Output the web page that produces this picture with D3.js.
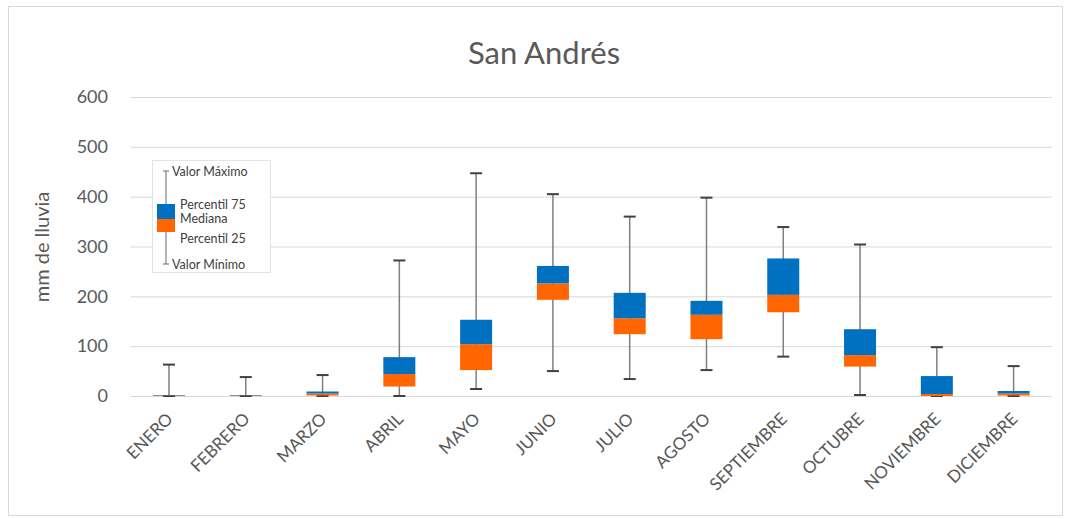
<!DOCTYPE html>
<html><head><meta charset="utf-8">
<script src="https://cdn.jsdelivr.net/npm/d3@7"></script>
<style>html,body{margin:0;padding:0;background:#fff;}svg{display:block;}</style>
</head><body>
<svg id="chart" width="1065" height="519"></svg>
<script>
const months = ["ENERO","FEBRERO","MARZO","ABRIL","MAYO","JUNIO","JULIO","AGOSTO","SEPTIEMBRE","OCTUBRE","NOVIEMBRE","DICIEMBRE"];
const minVals = [0, 0, 0, 0, 14, 50, 34, 52, 79, 2, 0, 0];
const q1Vals = [0, 0, 1, 19, 52, 193, 124, 114, 168, 59, 0, 1];
const medianVals = [1, 1, 5, 44, 104, 226, 156, 163, 203, 82, 4, 5];
const q3Vals = [2, 2, 9, 78, 153, 261, 207, 191, 276, 134, 40, 10];
const maxVals = [63, 38, 42, 272, 447, 405, 360, 398, 339, 304, 98, 60];
const yTicks = [0, 100, 200, 300, 400, 500, 600];

(function () {
const data = months.map((m, i) => ({m, min: minVals[i], q1: q1Vals[i], med: medianVals[i], q3: q3Vals[i], max: maxVals[i]}));

const svg = d3.select("#chart");
const font = "Lato, 'Open Sans', sans-serif";
const txt = "#595959";

svg.append("rect").attr("x", 8.5).attr("y", 6.5).attr("width", 1054).attr("height", 509)
  .attr("fill", "#fff").attr("stroke", "#d9d9d9");

const pLeft = 130.6, pRight = 1052, pTop = 97, pBottom = 396;
const x = d3.scaleBand().domain(months).range([pLeft, pRight]).paddingInner(0).paddingOuter(0);
const y = d3.scaleLinear().domain([0, 600]).range([pBottom, pTop]);

// gridlines
svg.append("g").selectAll("line").data(yTicks).join("line")
  .attr("x1", pLeft).attr("x2", pRight)
  .attr("y1", d => y(d) + 0.5).attr("y2", d => y(d) + 0.5)
  .attr("stroke", "#d9d9d9").attr("stroke-width", 1);

// y axis labels
const yAxis = d3.axisLeft(y).tickValues(yTicks).tickSize(0).tickPadding(0);
const ya = svg.append("g").attr("transform", `translate(108,0)`).call(yAxis);
ya.select(".domain").remove();
ya.selectAll("text").attr("font-family", font).attr("font-size", 18).attr("fill", txt);

// x axis labels
const xAxis = d3.axisBottom(x).tickSize(0).tickPadding(0);
const xa = svg.append("g").attr("transform", `translate(0,${pBottom})`).call(xAxis);
xa.select(".domain").remove();
xa.selectAll("text")
  .attr("font-family", font).attr("font-size", 17).attr("fill", txt)
  .attr("text-anchor", "end")
  .attr("dy", null).attr("y", null)
  .attr("transform", "translate(5,24) rotate(-45)");

// title
svg.append("text").attr("x", 544).attr("y", 64).attr("text-anchor", "middle")
  .attr("font-family", font).attr("font-size", 31).attr("fill", txt).text("San Andrés");

// y title
svg.append("text").attr("transform", "translate(49,247) rotate(-90)").attr("text-anchor", "middle")
  .attr("font-family", font).attr("font-size", 20).attr("fill", txt).text("mm de lluvia");

const bw = 32, capW = 12;
const g = svg.append("g").selectAll("g").data(data).join("g")
  .attr("transform", d => `translate(${x(d.m) + x.bandwidth() / 2},0)`);

g.append("line").attr("x1", 0).attr("x2", 0)
  .attr("y1", d => y(d.max)).attr("y2", d => y(d.min))
  .attr("stroke", "#7f7f7f").attr("stroke-width", 1.5);
g.append("line").attr("x1", -capW / 2).attr("x2", capW / 2)
  .attr("y1", d => y(d.max)).attr("y2", d => y(d.max))
  .attr("stroke", "#404040").attr("stroke-width", 2);
g.append("line").attr("x1", -capW / 2).attr("x2", capW / 2)
  .attr("y1", d => y(d.min)).attr("y2", d => y(d.min))
  .attr("stroke", "#404040").attr("stroke-width", 2);
g.append("rect").attr("x", -bw / 2).attr("width", bw)
  .attr("y", d => y(d.med)).attr("height", d => y(d.q1) - y(d.med))
  .attr("fill", "#FF6600");
g.append("rect").attr("x", -bw / 2).attr("width", bw)
  .attr("y", d => y(d.q3)).attr("height", d => y(d.med) - y(d.q3))
  .attr("fill", "#0070C0");

// legend
const lg = svg.append("g");
lg.append("rect").attr("x", 152.5).attr("y", 160.5).attr("width", 118).attr("height", 112)
  .attr("fill", "#fff").attr("stroke", "#e3e3e3");
lg.append("line").attr("x1", 166).attr("x2", 166).attr("y1", 171).attr("y2", 264)
  .attr("stroke", "#9a9a9a").attr("stroke-width", 1.5);
lg.append("line").attr("x1", 163).attr("x2", 169).attr("y1", 171).attr("y2", 171).attr("stroke", "#7f7f7f").attr("stroke-width", 1.2);
lg.append("line").attr("x1", 163).attr("x2", 169).attr("y1", 264).attr("y2", 264).attr("stroke", "#7f7f7f").attr("stroke-width", 1.2);
lg.append("rect").attr("x", 157).attr("y", 204).attr("width", 18).attr("height", 15).attr("fill", "#0070C0");
lg.append("rect").attr("x", 157).attr("y", 219).attr("width", 18).attr("height", 13).attr("fill", "#FF6600");
const legTexts = [["Valor Máximo", 172, 176], ["Percentil 75", 180, 209], ["Mediana", 180, 223], ["Percentil 25", 180, 243], ["Valor Mínimo", 172, 269]];
lg.selectAll("text.l").data(legTexts).join("text")
  .attr("x", d => d[1]).attr("y", d => d[2])
  .attr("font-family", font).attr("font-size", 12.5).attr("fill", "#404040").text(d => d[0]);
})();
</script>
</body></html>
